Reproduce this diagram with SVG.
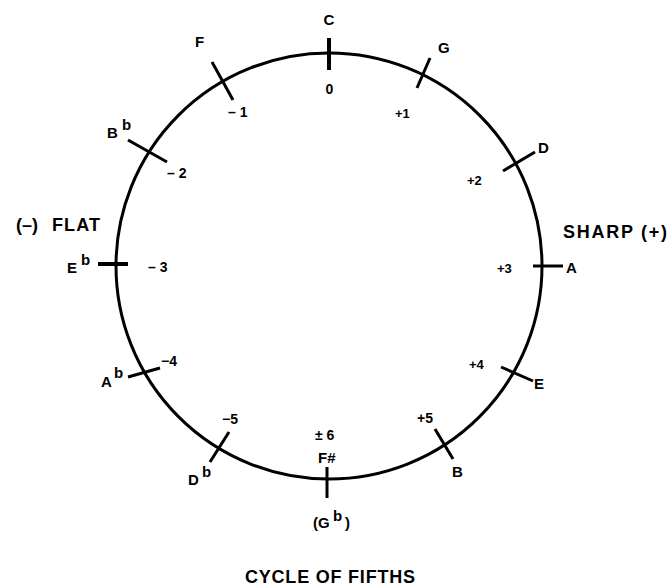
<svg xmlns="http://www.w3.org/2000/svg" width="670" height="587" viewBox="0 0 670 587">
<style>
text{font-family:"Liberation Sans",Arial,sans-serif;font-weight:bold;fill:#000}
.n{font-size:15px}
.m{font-size:14px}
.s{font-size:13px}
.h{font-size:18px}
.tick{stroke:#000;stroke-width:3;stroke-linecap:butt}
</style>
<rect width="670" height="587" fill="#fff"/>
<g id="circle"><circle cx="329" cy="266" r="213" fill="none" stroke="#000" stroke-width="3"/></g>
<g id="connectors">
<line class="tick" x1="329" y1="38" x2="329" y2="70" style="stroke-width:4"/>
<line class="tick" x1="430" y1="58" x2="417" y2="88"/>
<line class="tick" x1="503" y1="171" x2="535" y2="152"/>
<line class="tick" x1="533" y1="266" x2="563" y2="266"/>
<line class="tick" x1="501" y1="367" x2="533" y2="381"/>
<line class="tick" x1="435" y1="429" x2="453" y2="459"/>
<line class="tick" x1="327" y1="467" x2="327" y2="498"/>
<line class="tick" x1="229" y1="432" x2="210" y2="462"/>
<line class="tick" x1="128" y1="377" x2="160" y2="368"/>
<line class="tick" x1="98" y1="264" x2="128" y2="264" style="stroke-width:4"/>
<line class="tick" x1="128" y1="140" x2="167" y2="162"/>
<line class="tick" x1="212" y1="62" x2="233" y2="100"/>
</g>
<g id="C"><text class="n" x="329" y="25" text-anchor="middle">C</text><text class="m" x="329.5" y="94" text-anchor="middle">0</text></g>
<g id="G"><text class="n" x="438" y="53">G</text><text class="s" x="395" y="118">+1</text></g>
<g id="D"><text class="n" x="538" y="153">D</text><text class="s" x="467" y="185">+2</text></g>
<g id="A"><text class="n" x="566" y="273">A</text><text class="s" x="497" y="273">+3</text></g>
<g id="E"><text class="n" x="534" y="389">E</text><text class="s" x="469" y="369">+4</text></g>
<g id="B"><text class="n" x="452" y="477">B</text><text class="m" x="417" y="423">+5</text></g>
<g id="Fsharp"><text class="m" x="315" y="440">± 6</text><text class="n" x="318" y="463">F#</text><text class="n" x="313" y="528">(G</text><text class="n" x="333" y="521">b</text><text class="n" x="345" y="528">)</text></g>
<g id="Db"><text class="n" x="188" y="485">D</text><text class="n" x="202" y="477">b</text><text class="m" x="222" y="424">−5</text></g>
<g id="Ab"><text class="n" x="101" y="387">A</text><text class="n" x="114" y="378">b</text><text class="m" x="161" y="366">−4</text></g>
<g id="Eb"><text class="n" x="67" y="273">E</text><text class="n" x="81" y="265">b</text><text class="m" x="148" y="272">– 3</text></g>
<g id="Bb"><text class="n" x="107" y="138">B</text><text class="n" x="122" y="130">b</text><text class="m" x="167" y="178">– 2</text></g>
<g id="F"><text class="n" x="195" y="47">F</text><text class="m" x="228" y="117">– 1</text></g>
<g id="flat"><text class="h" x="16" y="231">(–)</text><text class="h" x="52" y="231" textLength="48">FLAT</text></g>
<g id="sharp"><text class="h" x="563" y="238" textLength="104">SHARP (+)</text></g>
<g id="title"><text x="245" y="583" style="font-size:18px" textLength="170">CYCLE OF FIFTHS</text></g>
</svg>
